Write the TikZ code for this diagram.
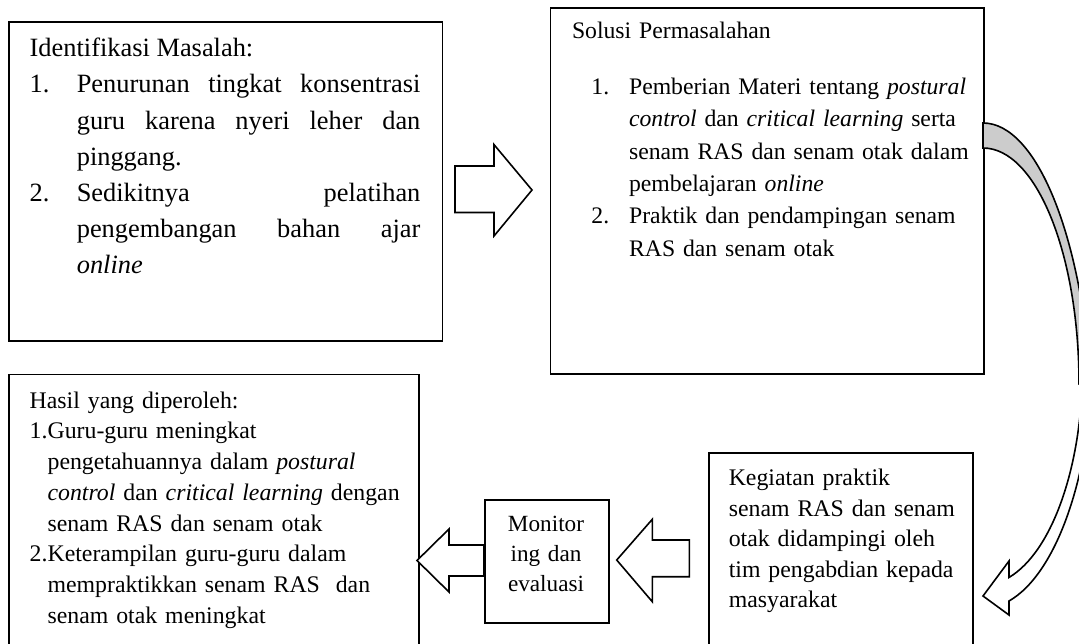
\documentclass[tikz,border=0pt]{standalone}
\usepackage{fontspec}
\setmainfont{Liberation Serif}
\newcommand{\butir}[3]{\par\noindent\hangindent=#1\hangafter=1\makebox[#1][l]{#2}#3\par}
\newcommand{\putus}{\hfil\break}

\begin{document}
\begin{tikzpicture}[x=0.5pt,y=-0.5pt,
    kotak/.style={draw,line width=0.8pt,inner sep=0pt,anchor=north west},
    teks/.style={inner sep=0pt,anchor=base west,align=left},
    panah/.style={draw,line width=0.8pt,fill=white}]
    \useasboundingbox (0,0) rectangle (1079,643);
    \clip (0,0) rectangle (1079,643);

    %%%%%%%%%% Kotak %%%%%%%%%%
    \node[kotak,minimum width=216.6pt,minimum height=159.45pt] (masalah) at (8.3,21.3) {};
    \node[kotak,minimum width=216.85pt,minimum height=183.05pt] (solusi) at (549.6,6.9) {};
    \node[kotak,minimum width=204.85pt,minimum height=143.1pt] (hasil) at (8.3,373.8) {};
    \node[kotak,minimum width=62pt,minimum height=61.5pt] (monitoring) at (484,499) {};
    \node[kotak,minimum width=132pt,minimum height=104pt] (kegiatan) at (708,452) {};

    %%%%%%%%%% Teks %%%%%%%%%%
    \node[teks,align=justify,text width=195.35pt,font=\fontsize{13.2}{18.08}\selectfont] (masalahteks) at (29.3,56.8)
        {Identifikasi Masalah:
        \butir{23.55pt}{1.}{Penurunan tingkat konsentrasi\linebreak guru karena nyeri leher dan\linebreak pinggang.}
        \butir{23.55pt}{2.}{Sedikitnya pelatihan\linebreak pengembangan bahan ajar\linebreak \emph{online}}};
    \node[teks,text width=200pt,font=\fontsize{11.85}{16.15}\selectfont] (solusiteks) at (571.6,38.8)
        {Solusi Permasalahan\par\vspace{11.7pt}
        \butir{28.55pt}{\hspace*{9.7pt}1.}{Pemberian Materi tentang \emph{postural}\putus \emph{control} dan \emph{critical learning} serta\putus senam RAS dan senam otak dalam\putus pembelajaran \emph{online}}
        \butir{28.55pt}{\hspace*{9.7pt}2.}{Praktik dan pendampingan senam\putus RAS dan senam otak}};
    \node[teks,text width=195pt,font=\fontsize{11.9}{15.35}\selectfont] (hasilteks) at (29.3,408.2)
        {Hasil yang diperoleh:
        \butir{8.95pt}{1.}{Guru-guru meningkat\putus pengetahuannya dalam \emph{postural}\putus \emph{control} dan \emph{critical learning} dengan\putus senam RAS dan senam otak}
        \butir{8.95pt}{2.}{Keterampilan guru-guru dalam\putus mempraktikkan senam RAS\ \ dan\putus senam otak meningkat}};
    \node[teks,anchor=base,align=center,text width=60pt,font=\fontsize{11.6}{15}\selectfont] (monitoringteks) at (546,531.7)
        {Monitor\\ ing dan\\ evaluasi};
    \node[teks,text width=125pt,font=\fontsize{11.9}{15.3}\selectfont] (kegiatanteks) at (728.4,485.5)
        {Kegiatan praktik\\ senam RAS dan senam\\ otak didampingi oleh\\ tim pengabdian kepada\\ masyarakat};

    %%%%%%%%% Panah %%%%%%%%%
    \draw[panah] (455,166) -- (494,166) -- (494,144.6) -- (532,190) -- (494,236) -- (494,212.5) -- (455,212.5) -- cycle;
    \draw[panah] (484,545) -- (449,545) -- (449,529) -- (417,560.5) -- (449,592) -- (449,576) -- (484,576) -- cycle;
    \draw[panah] (689.3,540) -- (652.3,540) -- (652.3,519.3) -- (616.7,560) -- (652.3,601.7) -- (652.3,576.7) -- (689.3,576.7) -- cycle;
    % panah lengkung
    \draw[panah,fill=black!20] (983,123) arc[start angle=-90,end angle=-10,x radius=110,y radius=322]
        -- (1079,384) arc[start angle=0,end angle=-90,x radius=96,y radius=236] -- cycle;
    \draw[panah] (1082.5,367) arc[start angle=0,end angle=74.85,x radius=99.5,y radius=218]
        -- (1009,561) -- (983,596) -- (1009,615) -- (1009,601)
        arc[start angle=76.3,end angle=0,x radius=110,y radius=258.5] -- cycle;
\end{tikzpicture}
\end{document}
